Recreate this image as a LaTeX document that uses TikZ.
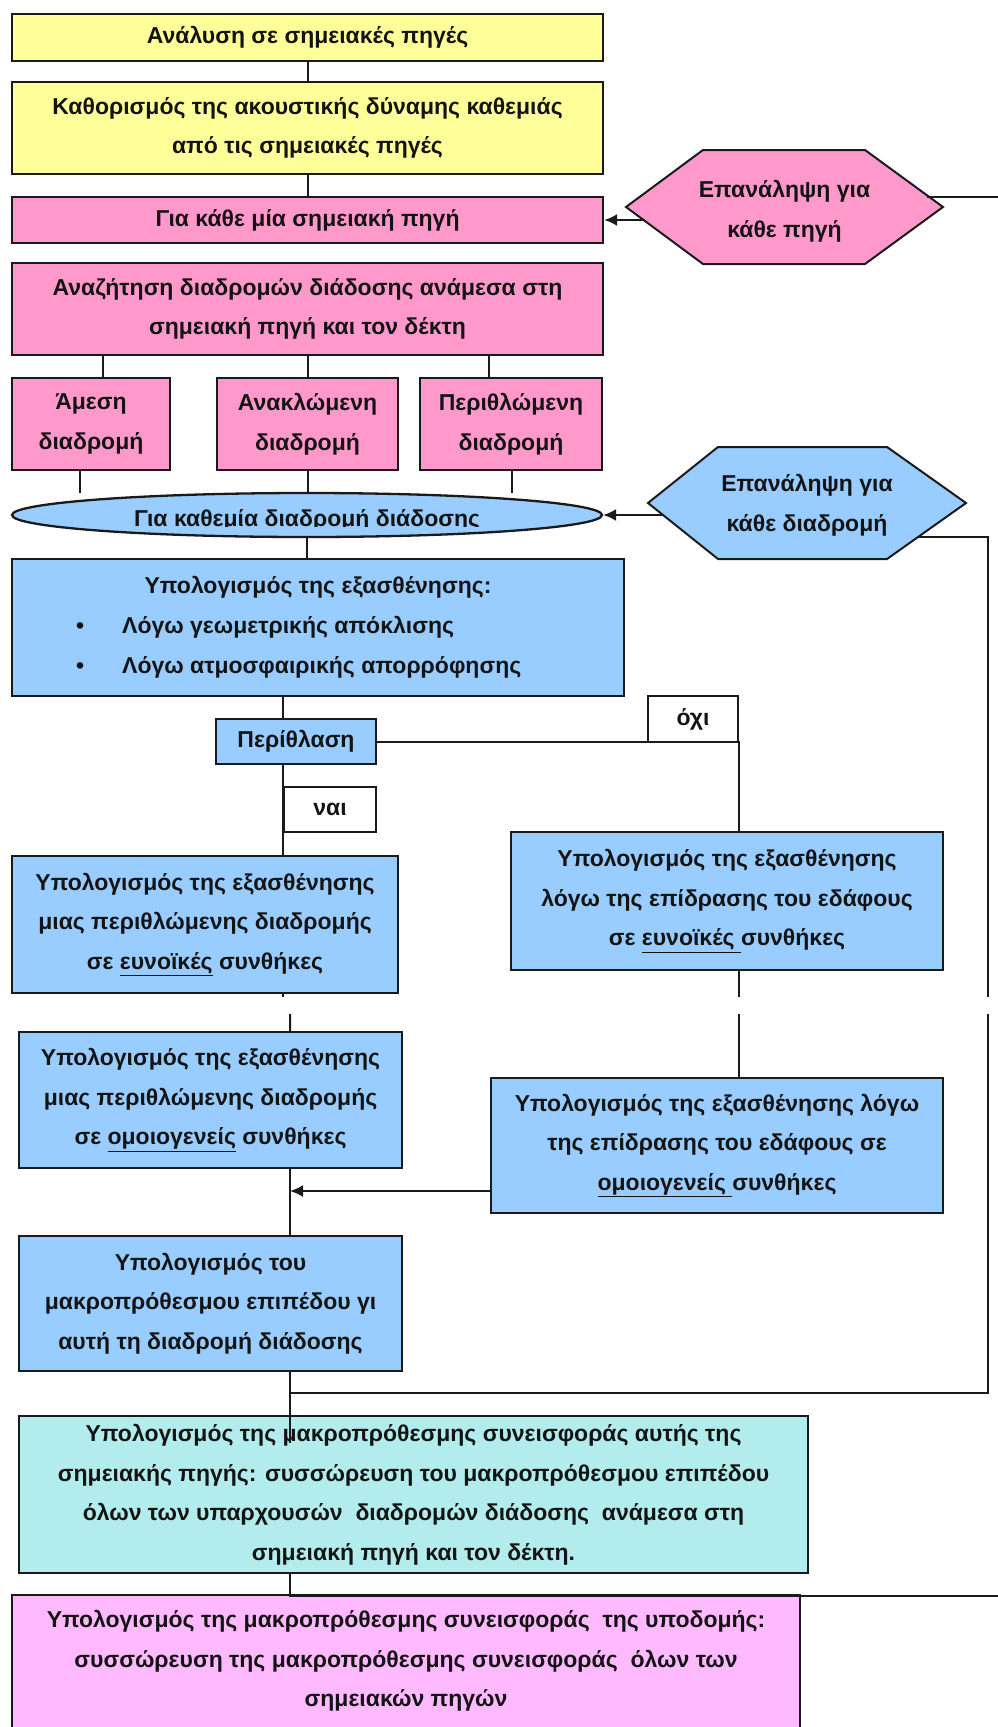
\documentclass[tikz,border=0pt]{standalone}
\usepackage{fontspec}
\setmainfont{Liberation Sans}
\usetikzlibrary{shapes.geometric,arrows.meta,calc}
\definecolor{cyel}{HTML}{FFFF99}
\definecolor{cpink}{HTML}{FF99CC}
\definecolor{cblue}{HTML}{99CCFF}
\definecolor{ccyan}{HTML}{B3ECEC}
\definecolor{cmag}{HTML}{FFB9FF}
\definecolor{cline}{HTML}{1A1A1A}
\definecolor{ctext}{HTML}{141414}
\begin{document}
\begin{tikzpicture}[x=1pt,y=-1pt,
  every node/.style={font=\fontsize{23}{39.5}\selectfont\bfseries, text=ctext},
  box/.style={draw=cline, line width=2.3pt, inner sep=0pt, align=center},
  conn/.style={draw=cline, line width=2pt},
  arr/.style={conn, -{Latex[length=13pt,width=12pt]}},
  hexa/.style={draw=cline, line width=2pt}]
\useasboundingbox (0,0) rectangle (998,1727);
\clip (0,0) rectangle (998,1727);

% boxes
\node[box, fill=cyel, minimum width=591pt, minimum height=47pt] (b1) at (307.5,37.5) {Ανάλυση σε σημειακές πηγές};
\node[box, fill=cyel, minimum width=591pt, minimum height=92pt] (b2) at (307.5,128) {Καθορισμός της ακουστικής δύναμης καθεμιάς\\από τις σημειακές πηγές};
\node[box, fill=cpink, minimum width=591pt, minimum height=46pt] (b3) at (307.5,220) {Για κάθε μία σημειακή πηγή};
\node[box, fill=cpink, minimum width=591pt, minimum height=92pt] (b4) at (307.5,309) {Αναζήτηση διαδρομών διάδοσης ανάμεσα στη\\σημειακή πηγή και τον δέκτη};
\node[box, fill=cpink, minimum width=158pt, minimum height=92pt] (s1) at (91,424) {Άμεση\\διαδρομή};
\node[box, fill=cpink, minimum width=181pt, minimum height=92pt] (s2) at (307.5,424) {Ανακλώμενη\\διαδρομή};
\node[box, fill=cpink, minimum width=182pt, minimum height=92pt] (s3) at (511,424) {Περιθλώμενη\\διαδρομή};
\node[ellipse, draw=cline, line width=2.3pt, fill=cblue, minimum width=590pt, minimum height=44pt, inner sep=0pt] (el) at (307,515) {};
\begin{scope}
\clip (0,480) rectangle (998,526.5);
\node[anchor=base, inner sep=0pt] (elt) at (307,526) {Για καθεμία διαδρομή διάδοσης};
\end{scope}

\node[box, fill=cblue, minimum width=612pt, minimum height=137pt] (bb) at (318,627.5) {};
\node[inner sep=0pt] (bbt) at (318,587) {Υπολογισμός της εξασθένησης:};
\node[anchor=west, inner sep=0pt] (bba) at (76,627) {\makebox[46pt][l]{•}Λόγω γεωμετρικής απόκλισης};
\node[anchor=west, inner sep=0pt] (bbb) at (76,667) {\makebox[46pt][l]{•}Λόγω ατμοσφαιρικής απορρόφησης};

\node[box, fill=cblue, minimum width=160pt, minimum height=45pt] (pe) at (296,741.5) {Περίθλαση};
\node[box, fill=white, minimum width=90pt, minimum height=46pt] (ox) at (693,719) {όχι};
\node[box, fill=white, minimum width=92pt, minimum height=45pt] (nai) at (330,809.5) {ναι};

\node[box, fill=cblue, minimum width=386pt, minimum height=137pt] (L1) at (205,924.5) {Υπολογισμός της εξασθένησης\\μιας περιθλώμενης διαδρομής\\σε \underline{ευνοϊκές} συνθήκες};
\node[box, fill=cblue, minimum width=432pt, minimum height=138pt] (R1) at (727,901) {Υπολογισμός της εξασθένησης\\λόγω της επίδρασης του εδάφους\\σε \underline{ευνοϊκές\ }συνθήκες};
\node[box, fill=cblue, minimum width=383pt, minimum height=136pt] (L2) at (210.5,1100) {Υπολογισμός της εξασθένησης\\μιας περιθλώμενης διαδρομής\\σε \underline{ομοιογενείς} συνθήκες};
\node[box, fill=cblue, minimum width=452pt, minimum height=135pt] (R2) at (717,1145.5) {Υπολογισμός της εξασθένησης λόγω\\της επίδρασης του εδάφους σε\\\underline{ομοιογενείς\ }συνθήκες};
\node[box, fill=cblue, minimum width=383pt, minimum height=135pt] (L3) at (210.5,1303.5) {Υπολογισμός του\\μακροπρόθεσμου επιπέδου γι\\αυτή τη διαδρομή διάδοσης};
\node[box, fill=ccyan, minimum width=789pt, minimum height=157pt] (cy) at (413.5,1494.5) {Υπολογισμός της μακροπρόθεσμης συνεισφοράς αυτής της\\σημειακής πηγής: συσσώρευση του μακροπρόθεσμου επιπέδου\\όλων των υπαρχουσών \ διαδρομών διάδοσης \ ανάμεσα στη\\σημειακή πηγή και τον δέκτη.};
\node[fill=cmag, minimum width=788pt, minimum height=132pt, inner sep=0pt, align=center] (pb) at (406,1661) {Υπολογισμός της μακροπρόθεσμης συνεισφοράς \ της υποδομής:\\συσσώρευση της μακροπρόθεσμης συνεισφοράς \ όλων των\\σημειακών πηγών};
\draw[conn, line width=2.3pt] (pb.south west) -- (pb.north west) -- (pb.north east) -- (pb.south east);

% hexagons
\draw[hexa, fill=cpink] (626,207) -- (703,150) -- (865,150) -- (943,207) -- (865,264) -- (703,264) -- cycle;
\node[align=center, inner sep=0pt] (hp) at (784.5,211) {Επανάληψη για\\κάθε πηγή};
\draw[hexa, fill=cblue] (648,503) -- (718,447) -- (887,447) -- (966,503) -- (887,559) -- (718,559) -- cycle;
\node[align=center, inner sep=0pt] (hb) at (807,505) {Επανάληψη για\\κάθε διαδρομή};

% named points
\coordinate (hpL) at (645,220);
\coordinate (hpR) at (927,197);
\coordinate (edgeA) at (998,197);
\coordinate (hbL) at (664,515);
\coordinate (hbR) at (918,537);
\coordinate (rtrA) at (988,537);
\coordinate (rtrB) at (988,1393);
\coordinate (trM) at (290,1393);
\coordinate (trC) at (290,1443);
\coordinate (jogA) at (284,1005);
\coordinate (jogB) at (290,1005);
\coordinate (edgeB) at (998,1596);
\coordinate (k1) at ($(s1.north)+(12,0)$);
\coordinate (k3) at ($(s3.north)+(-22,0)$);
\coordinate (d1) at ($(s1.south)+(-11,0)$);
\coordinate (d3) at ($(s3.south)+(1,0)$);
\coordinate (k5) at ($(R2.west)+(0,45.5)$);

% connectors
\draw[conn] (b1) -- (b2);
\draw[conn] (b2) -- (b3);
\draw[conn] (k1) -- (k1 |- b4.south);
\draw[conn] (s2) -- (b4);
\draw[conn] (k3) -- (k3 |- b4.south);
\draw[conn] (d1) -- ++(0,22);
\draw[conn] (s2.south) -- (s2.south |- el.north);
\draw[conn] (d3) -- ++(0,22);
\draw[arr] (hpL) -- (b3.east);
\draw[conn] (hpR) -- (edgeA);
\draw[arr] (hbL) -- (el.east);
\draw[conn] (hbR) -- (rtrA) -- (rtrB) -- (trM);
\draw[conn] (el.south) -- (el.south |- bb.north);
\draw[conn] (nai.west |- bb.south) -- (nai.west |- pe.north);
\draw[conn] (nai.west |- pe.south) -- (nai.west |- L1.north);
\draw[conn] (pe.east) -- (pe.east -| ox.east) -- (ox.east |- R1.north);
\draw[conn] (nai.west |- L1.south) -- (jogA) -- (jogB) -- (trM |- L2.north);
\draw[conn] (ox.east |- R1.south) -- (ox.east |- R2.north);
\draw[conn] (trM |- L2.south) -- (trM |- L3.north);
\draw[arr] (k5) -- (k5 -| trM);
\draw[conn] (trM |- L3.south) -- (trC);
\draw[conn] (trM |- cy.south) -- (trM |- edgeB) -- (edgeB);

% page-break gap band
\fill[white] (0,996.5) rectangle (998,1013.5);
\end{tikzpicture}
\end{document}
